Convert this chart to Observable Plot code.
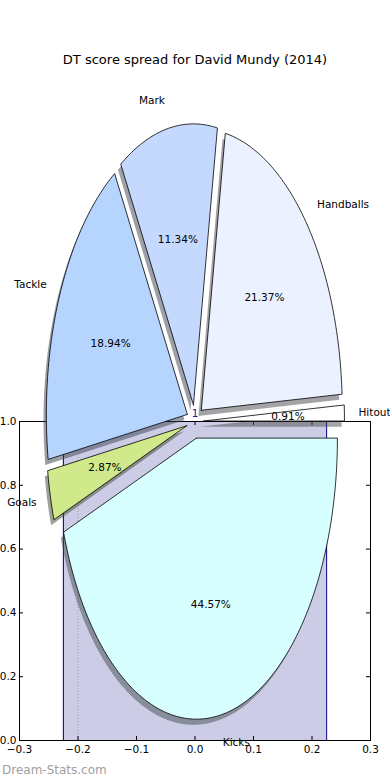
<!DOCTYPE html>
<html>
<head>
<meta charset="utf-8">
<script src="https://cdn.jsdelivr.net/npm/d3@7"></script>
<script src="https://cdn.jsdelivr.net/npm/@observablehq/plot@0.6"></script>
<style>
  html, body { margin: 0; padding: 0; background: #fff; }
  #wrap { position: relative; width: 390px; height: 780px; font-family: "DejaVu Sans", sans-serif; }
  #title { position: absolute; left: 0; width: 390px; top: 52px; text-align: center; font-size: 13px; color: #000; }
  #mark { position: absolute; left: 2px; top: 763px; font-size: 12px; color: #a0a0a0; }
  #chart { position: absolute; left: 0; top: 0; }
</style>
</head>
<body>
<div id="wrap">
  <div id="chart"></div>
  <div id="title">DT score spread for David Mundy (2014)</div>
  <div id="mark">Dream-Stats.com</div>
</div>
<script>
// ---- data ----
const categories = ["Hitout", "Handballs", "Mark", "Tackle", "Goals", "Kicks"];
const shares = [0.91, 21.37, 11.34, 18.94, 2.87, 44.57];
const sliceColors = ["#ffffff", "#ebf1ff", "#c5d9ff", "#b5d5ff", "#cfe98b", "#d8ffff"];
const xTicks = [-0.3, -0.2, -0.1, 0.0, 0.1, 0.2, 0.3];
const yTicks = [0.0, 0.2, 0.4, 0.6, 0.8, 1.0];
const spanLow = [-0.225];
const spanHigh = [0.225];
const spanTop = [1.0];
const guideX = [-0.2];
const countLabel = ["1"];

// pie geometry (in axis data units)
const pieCenter = [0, 1];
const rx = 0.241, ry = 0.881, explode = 0.06, shadowOff = 0.02;

const total = d3.sum(shares);
let acc = 0;
const slices = categories.map((label, i) => {
  const a1 = acc; acc += shares[i] / total * 360;
  const a2 = acc, mid = (a1 + a2) / 2, m = mid * Math.PI / 180;
  const cx = pieCenter[0] + explode * rx * Math.cos(m);
  const cy = pieCenter[1] + explode * ry * Math.sin(m);
  return {label, share: shares[i], color: sliceColors[i], a1, a2, mid, cx, cy};
});
function wedgePts(s, dx, dy) {
  const pts = [{x: s.cx + dx, y: s.cy + dy}];
  const n = Math.max(4, Math.ceil((s.a2 - s.a1) / 1));
  for (let k = 0; k <= n; k++) {
    const a = (s.a1 + (s.a2 - s.a1) * k / n) * Math.PI / 180;
    pts.push({x: s.cx + dx + rx * Math.cos(a), y: s.cy + dy + ry * Math.sin(a)});
  }
  pts.push({x: s.cx + dx, y: s.cy + dy});
  return pts;
}
function darken(c) {
  const r = d3.rgb(c);
  return d3.rgb(r.r * 0.3, r.g * 0.3, r.b * 0.3).formatHex();
}
const cosd = d => Math.cos(d * Math.PI / 180), sind = d => Math.sin(d * Math.PI / 180);

const shadowMarks = slices.map(s => Plot.line(wedgePts(s, -shadowOff * rx, -shadowOff * ry), {
  x: "x", y: "y", fill: darken(s.color), fillOpacity: 0.5, stroke: "none"
}));
const wedgeMarks = slices.map(s => Plot.line(wedgePts(s, 0, 0), {
  x: "x", y: "y", fill: s.color, stroke: "#000", strokeWidth: 0.8, strokeLinejoin: "miter"
}));

const fmt = d3.format(".1f");
const W = 390, H = 780, mL = 19, mR = 20, mT = 421, mB = 40;
const plotW = W - mL - mR, plotH = H - mT - mB;

const chart = Plot.plot({
  width: W, height: H,
  marginLeft: mL, marginRight: mR, marginTop: mT, marginBottom: mB,
  style: {fontFamily: "DejaVu Sans, sans-serif", fontSize: "10.5px", background: "transparent", overflow: "visible"},
  x: {domain: [-0.3, 0.3]},
  y: {domain: [0, 1]},
  marks: [
    Plot.rect(spanLow, {x1: d => d, x2: (d, i) => spanHigh[i], y1: 0, y2: (d, i) => spanTop[i], fill: "#000080", fillOpacity: 0.2}),
    Plot.ruleX(spanLow.concat(spanHigh), {y1: 0, y2: 1, stroke: "#000080", strokeWidth: 1}),
    Plot.ruleX(guideX, {y1: 0, y2: 1, stroke: "#999", strokeDasharray: "1,2", strokeWidth: 1}),
    Plot.tickX(xTicks, {x: d => d, insetBottom: plotH - 4, stroke: "#000"}),
    Plot.tickX(xTicks, {x: d => d, insetTop: plotH - 4, stroke: "#000"}),
    Plot.tickY(yTicks, {y: d => d, insetRight: plotW - 4, stroke: "#000"}),
    Plot.tickY(yTicks, {y: d => d, insetLeft: plotW - 4, stroke: "#000"}),
    Plot.frame({stroke: "#000", strokeWidth: 1}),
    Plot.axisX(xTicks, {tickSize: 0, tickPadding: 5, tickFormat: fmt, label: null, fontSize: 10.5, fill: "#000"}),
    Plot.axisY(yTicks, {tickSize: 0, tickPadding: 3, tickFormat: fmt, label: null, fontSize: 10.5, fill: "#000"}),
    ...shadowMarks,
    ...wedgeMarks,
    Plot.text(slices.filter(s => cosd(s.mid) > 0), {
      x: s => s.cx + 1.1 * rx * cosd(s.mid), y: s => s.cy + 1.1 * ry * sind(s.mid),
      text: "label", textAnchor: "start", fill: "#000", fontSize: 10.5
    }),
    Plot.text(slices.filter(s => cosd(s.mid) <= 0), {
      x: s => s.cx + 1.1 * rx * cosd(s.mid), y: s => s.cy + 1.1 * ry * sind(s.mid),
      text: "label", textAnchor: "end", fill: "#000", fontSize: 10.5
    }),
    Plot.text(slices, {
      x: s => s.cx + 0.6 * rx * cosd(s.mid), y: s => s.cy + 0.6 * ry * sind(s.mid),
      text: s => s.share.toFixed(2) + "%", fill: "#000", fontSize: 10.5
    }),
    Plot.text(countLabel, {x: pieCenter[0], y: pieCenter[1], text: d => d, dy: -8, fill: "#1a1aa0", fontSize: 10.5})
  ]
});
document.getElementById("chart").appendChild(chart);
</script>
</body>
</html>
